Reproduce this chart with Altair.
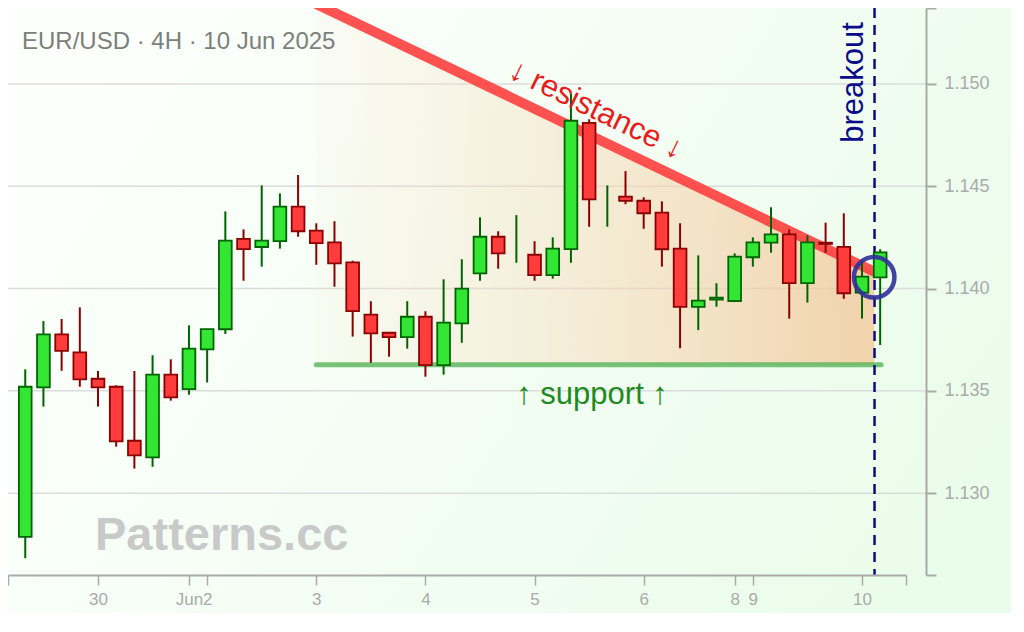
import altair as alt
import pandas as pd

# ---- data (EUR/USD 4H candles, index 0..47) ----
opens  = [1.12786, 1.13517, 1.13776, 1.13688, 1.13559, 1.13520, 1.13256, 1.13175, 1.13579, 1.13508,
          1.13703, 1.13801, 1.14243, 1.14203, 1.14232, 1.14400, 1.14283, 1.14226, 1.14128, 1.13872,
          1.13784, 1.13763, 1.13862, 1.13626, 1.13830, 1.14074, 1.14253, 1.14240, 1.14165, 1.14066,
          1.14193, 1.14810, 1.14400, 1.14449, 1.14429, 1.14371, 1.14195, 1.13910, 1.13946, 1.13939,
          1.14153, 1.14224, 1.14265, 1.14026, 1.14224, 1.14204, 1.13980, 1.14055]
highs  = [1.13605, 1.13841, 1.13851, 1.13908, 1.13597, 1.13527, 1.13597, 1.13674, 1.13654, 1.13820,
          1.13802, 1.14377, 1.14289, 1.14504, 1.14465, 1.14555, 1.14319, 1.14329, 1.14136, 1.13938,
          1.13786, 1.13938, 1.13889, 1.14045, 1.14143, 1.14348, 1.14280, 1.14359, 1.14231, 1.14250,
          1.14954, 1.14827, 1.14504, 1.14574, 1.14446, 1.14426, 1.14319, 1.14162, 1.14026, 1.14172,
          1.14250, 1.14397, 1.14289, 1.14260, 1.14322, 1.14368, 1.14143, 1.14192]
lows   = [1.12682, 1.13423, 1.13598, 1.13520, 1.13423, 1.13227, 1.13120, 1.13129, 1.13452, 1.13481,
          1.13541, 1.13778, 1.14038, 1.14107, 1.14195, 1.14253, 1.14116, 1.14009, 1.13765, 1.13637,
          1.13667, 1.13706, 1.13569, 1.13579, 1.13735, 1.14038, 1.14097, 1.14126, 1.14038, 1.14048,
          1.14126, 1.14302, 1.14302, 1.14412, 1.14292, 1.14107, 1.13708, 1.13797, 1.13911, 1.13934,
          1.14107, 1.14175, 1.13853, 1.13931, 1.14175, 1.13950, 1.13853, 1.13724]
closes = [1.13520, 1.13776, 1.13695, 1.13556, 1.13517, 1.13253, 1.13185, 1.13579, 1.13468, 1.13706,
          1.13802, 1.14234, 1.14193, 1.14234, 1.14400, 1.14280, 1.14222, 1.14123, 1.13890, 1.13781,
          1.13763, 1.13862, 1.13626, 1.13833, 1.14000, 1.14253, 1.14172, 1.14240, 1.14066, 1.14195,
          1.14820, 1.14436, 1.14400, 1.14428, 1.14368, 1.14192, 1.13910, 1.13941, 1.13956, 1.14156,
          1.14226, 1.14265, 1.14026, 1.14226, 1.14218, 1.13977, 1.14058, 1.14177]

tick_idx = [4, 9, 10, 16, 22, 28, 34, 39, 40, 46]
tick_lbl = ["30", "Jun", "2", "3", "4", "5", "6", "8", "9", "10"]
price_ticks = [1.130, 1.135, 1.140, 1.145, 1.150]

x_dom = [-0.948, 48.42]
y_dom = [1.12600, 1.15371]

support_level = 1.13628
support_i = [16.0, 47.05]
res_i = [16.0, 46.68]
res_p = [1.15391, 1.14082]
breakout_i = 46.69
circle_i = [46.67]
circle_p = [1.14055]

title_text = "EUR/USD · 4H · 10 Jun 2025"

W, H = 898, 567
PAD_R, PAD_B = 105, 38

df = pd.DataFrame({"i": list(range(len(opens))), "open": opens, "high": highs,
                   "low": lows, "close": closes})
df["dir"] = ["up" if c >= o else "down" for o, c in zip(opens, closes)]

xscale = alt.Scale(domain=x_dom, nice=False, zero=False)
yscale = alt.Scale(domain=y_dom, nice=False, zero=False)

x_expr = " : ".join(f"datum.value == {v} ? '{l}'" for v, l in zip(tick_idx, tick_lbl)) + " : ''"
xaxis = alt.Axis(values=[x_dom[0]] + tick_idx + [x_dom[1]], labelExpr=x_expr, grid=False,
                 domainColor="#aaaaaa", domainWidth=2, tickColor="#aaaaaa", tickWidth=1.5,
                 tickSize=10, labelColor="#aaaaaa", labelFontSize=17, labelPadding=6,
                 labelFlush=False, labelOverlap=False, title=None, zindex=2)
yaxis = alt.Axis(orient="right", offset=20, values=[y_dom[0]] + price_ticks + [y_dom[1]],
                 labelExpr="(datum.value < 1.1265 || datum.value > 1.1535) ? '' : format(datum.value, '.3f')",
                 grid=False, domainColor="#aaaaaa", domainWidth=2, tickColor="#aaaaaa",
                 tickWidth=2, tickSize=10, labelColor="#aaaaaa", labelFontSize=18,
                 labelPadding=8, labelFlush=False, labelOverlap=False, title=None, zindex=2)

def X(field):
    return alt.X(field, scale=xscale, axis=xaxis)

def Y(field):
    return alt.Y(field, scale=yscale, axis=yaxis)

dir_stroke = alt.Scale(domain=["up", "down"], range=["#006400", "#8b0000"])
dir_fill = alt.Scale(domain=["up", "down"], range=["#33e633", "#ff3c3c"])

bg_grad = alt.Gradient(gradient="linear", x1=0, y1=0.3, x2=1, y2=0.7,
                       stops=[alt.GradientStop(offset=0, color="#fdfffd"),
                              alt.GradientStop(offset=1, color="#eafcea")])
bg = alt.Chart(pd.DataFrame({"z": [0]})).mark_rect(fill=bg_grad, clip=False).encode(
    x=alt.value(0), x2=alt.value(W + PAD_R), y=alt.value(0), y2=alt.value(H + PAD_B))

grid = alt.Chart(pd.DataFrame({"p": price_ticks})).mark_rule(
    color="#dcdcdc", strokeWidth=1.5).encode(
    y=Y("p:Q"), x=alt.value(0), x2=alt.value(W + 20))

area_grad = alt.Gradient(gradient="linear", x1=0, y1=0, x2=1, y2=0,
                         stops=[alt.GradientStop(offset=0, color="rgba(250,228,200,0.12)"),
                                alt.GradientStop(offset=1, color="rgba(242,200,155,0.8)")])
tri = alt.Chart(pd.DataFrame({"i": res_i, "p": res_p, "s": [support_level] * 2})).mark_area(
    fill=area_grad, clip=True).encode(x=X("i:Q"), y=Y("p:Q"), y2="s:Q")

support = alt.Chart(pd.DataFrame({"i": support_i, "p": [support_level] * 2})).mark_line(
    color="#4caf50", opacity=0.75, strokeWidth=5, strokeCap="round", clip=True).encode(
    x=X("i:Q"), y=Y("p:Q"))

resist = alt.Chart(pd.DataFrame({"i": res_i, "p": res_p})).mark_line(
    color="#ff3a3a", opacity=0.88, strokeWidth=10, strokeCap="round", clip=True).encode(
    x=X("i:Q"), y=Y("p:Q"))

brk = alt.Chart(pd.DataFrame({"b": [breakout_i]})).mark_rule(
    color="#0c0c80", strokeWidth=2.5, strokeDash=[10, 7]).encode(x=X("b:Q"))

base = alt.Chart(df)
wick = base.mark_rule(strokeWidth=2).encode(
    x=X("i:Q"), y=Y("low:Q"), y2="high:Q",
    color=alt.Color("dir:N", scale=dir_stroke, legend=None))
body = base.transform_filter("datum.open != datum.close").transform_calculate(
    xl="datum.i - 0.35", xr="datum.i + 0.35").mark_rect(strokeWidth=1.8).encode(
    x=X("xl:Q"), x2="xr:Q", y=Y("open:Q"), y2="close:Q",
    fill=alt.Fill("dir:N", scale=dir_fill, legend=None),
    stroke=alt.Stroke("dir:N", scale=dir_stroke, legend=None))

circ = alt.Chart(pd.DataFrame({"i": circle_i, "p": circle_p})).mark_point(
    shape="circle", size=1640, filled=False, stroke="#30309a", strokeWidth=4.5, opacity=0.9).encode(
    x=X("i:Q"), y=Y("p:Q"))

def label(i, p, text, **kw):
    return alt.Chart(pd.DataFrame({"i": [i], "p": [p], "t": [text]})).mark_text(**kw).encode(
        x=X("i:Q"), y=Y("p:Q"), text="t:N")

t_res = label(31.38, 1.14872, "↓ resistance ↓", angle=26, fontSize=31, color="#e81c1c",
              align="center", baseline="middle")
t_sup = label(31.16, 1.13436, "↑ support ↑", fontSize=31, color="#1f8a1f",
              align="center", baseline="alphabetic")
t_brk = label(46.06, 1.15007, "breakout", angle=270, fontSize=31, color="#0c0c8a",
              align="center", baseline="alphabetic")

title = alt.Chart(pd.DataFrame({"t": [title_text]})).mark_text(
    fontSize=24, color="#7b807b", align="left", baseline="alphabetic").encode(
    x=alt.value(14), y=alt.value(41), text="t:N")
wm = alt.Chart(pd.DataFrame({"t": ["Patterns.cc"]})).mark_text(
    fontSize=47, fontWeight="bold", color="#c9c9c9", align="left", baseline="alphabetic").encode(
    x=alt.value(87), y=alt.value(542), text="t:N")

chart = alt.layer(bg, grid, tri, support, resist, brk, wick, body, circ,
                  t_res, t_sup, t_brk, title, wm).properties(
    width=W, height=H,
    autosize=alt.AutoSizeParams(type="none"),
    padding={"left": 0, "top": 0, "right": PAD_R, "bottom": PAD_B},
).configure(font="Liberation Sans", background="#f4fdf4").configure_view(strokeWidth=0)

chart.save("out.html", embed_options={"renderer": "svg", "actions": False})
